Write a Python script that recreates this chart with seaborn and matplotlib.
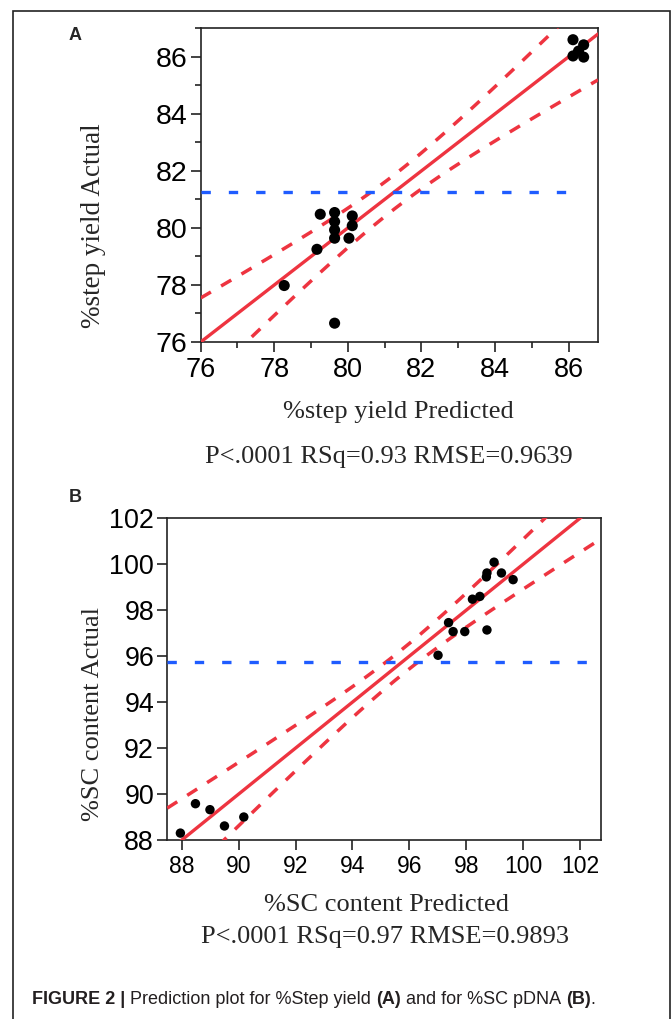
import matplotlib
matplotlib.use('Agg')
import matplotlib.pyplot as plt
import numpy as np
import pandas as pd
import seaborn as sns
from matplotlib.patches import Rectangle
from matplotlib.ticker import MultipleLocator

sns.set_theme(style='ticks')
plt.rcParams['font.family'] = ['Liberation Sans', 'DejaVu Sans']

W, H = 672, 1019
RED = '#ee3440'
BLUE = '#1f5cff'
SERIF = ['Liberation Serif', 'DejaVu Serif']

# panel A: %step yield
pred_a = [86.12, 86.41, 86.12, 86.41, 86.27, 79.25, 79.64, 79.64, 79.64, 79.64,
          80.12, 80.12, 80.03, 79.16, 78.27, 79.64]
act_a = [86.60, 86.42, 86.03, 85.99, 86.20, 80.48, 80.54, 80.22, 79.93, 79.64,
         80.42, 80.08, 79.64, 79.25, 77.98, 76.66]
mean_a = 81.27
mean_line_end_a = 86.3
band_a = (0.60, 0.27)  # half-width at the mean, growth per unit away from it
stats_a = 'P<.0001 RSq=0.93 RMSE=0.9639'

# panel B: %SC content
pred_b = [87.95, 88.48, 88.99, 89.50, 90.18, 97.01, 97.38, 97.54, 97.95, 98.22,
          98.48, 98.73, 98.71, 98.73, 98.98, 99.24, 99.65]
act_b = [88.30, 89.58, 89.32, 88.61, 89.00, 96.04, 97.46, 97.07, 97.07, 98.48,
         98.60, 97.14, 99.45, 99.62, 100.09, 99.62, 99.33]
mean_b = 95.75
band_b = (0.55, 0.22)
stats_b = 'P<.0001 RSq=0.97 RMSE=0.9893'


def px(x, y):
    return x / W, 1 - y / H


def draw_panel(ax, pred, act, mean, band, xlim, ylim, size, mean_end=None):
    df = pd.DataFrame({'pred': pred, 'act': act})
    xs = np.linspace(xlim[0], xlim[1], 300)
    half = np.sqrt(band[0] ** 2 + (band[1] * (xs - mean)) ** 2)
    ax.plot(xs, xs, color=RED, lw=2.4, zorder=3)
    for sign in (1, -1):
        ax.plot(xs, xs + sign * half, color=RED, lw=2.5, dashes=(3.4, 3.4), zorder=3)
    end = xlim[1] if mean_end is None else mean_end
    ax.plot([xlim[0], end], [mean, mean], color=BLUE, lw=2.4, dashes=(2.8, 5.4), zorder=3)
    sns.scatterplot(data=df, x='pred', y='act', ax=ax, color='black', s=size,
                    edgecolor='none', zorder=4, legend=False)
    ax.set_xlim(*xlim)
    ax.set_ylim(*ylim)
    ax.set_xlabel('')
    ax.set_ylabel('')
    for sp in ax.spines.values():
        sp.set_visible(True)
        sp.set_color('#222222')
        sp.set_linewidth(1.2)


fig = plt.figure(figsize=(W / 100, H / 100), dpi=100)
fig.add_artist(Rectangle((13 / W, -0.1), (670 - 13) / W, 1.1 - 10.7 / H,
                         transform=fig.transFigure, fill=False, lw=1.2, ec='#222222'))

tick_style = dict(direction='out', width=1.2, color='#222222', labelcolor='black')

# Panel A
ax_a = fig.add_axes([200.7 / W, 1 - 342 / H, (598 - 200.7) / W, (342 - 28.3) / H])
draw_panel(ax_a, pred_a, act_a, mean_a, band_a, (76, 86.8), (76, 87.0), 64, mean_line_end_a)
ax_a.xaxis.set_major_locator(MultipleLocator(2))
ax_a.yaxis.set_major_locator(MultipleLocator(2))
ax_a.xaxis.set_minor_locator(MultipleLocator(1))
ax_a.yaxis.set_minor_locator(MultipleLocator(1))
ax_a.tick_params(which='major', length=7, pad=2.5, **tick_style)
ax_a.tick_params(which='minor', length=4, **tick_style)
ax_a.tick_params(axis='y', labelsize=20.5)
ax_a.tick_params(axis='x', labelsize=19.5, pad=3.5)

# Panel B
ax_b = fig.add_axes([167.3 / W, 1 - 840 / H, (600.7 - 167.3) / W, (840 - 518.3) / H])
draw_panel(ax_b, pred_b, act_b, mean_b, band_b, (87.49, 102.73), (88, 102), 46)
ax_b.xaxis.set_major_locator(MultipleLocator(2))
ax_b.yaxis.set_major_locator(MultipleLocator(2))
ax_b.tick_params(which='major', length=7, pad=2.5, **tick_style)
ax_b.tick_params(axis='y', labelsize=19.4)
ax_b.tick_params(axis='x', labelsize=16.5, pad=3.5)

# panel letters and labels
fig.text(*px(75, 36), 'A', fontsize=13, fontweight='bold', ha='center', va='center')
fig.text(*px(75, 497), 'B', fontsize=13, fontweight='bold', ha='center', va='center')

fig.text(*px(94, 226), '%step yield Actual', family=SERIF, fontsize=19.5,
         rotation=90, ha='center', va='center')
fig.text(*px(398, 412), '%step yield Predicted', family=SERIF, fontsize=19,
         ha='center', va='center')
fig.text(*px(389, 457), stats_a, family=SERIF, fontsize=19, ha='center', va='center')

fig.text(*px(93, 714), '%SC content Actual', family=SERIF, fontsize=19,
         rotation=90, ha='center', va='center')
fig.text(*px(387, 905), '%SC content Predicted', family=SERIF, fontsize=19,
         ha='center', va='center')
fig.text(*px(385, 937), stats_b, family=SERIF, fontsize=19, ha='center', va='center')

# caption with bold pieces
caption = [('FIGURE 2 |', 'bold'), (' Prediction plot for %Step yield ', 'normal'),
           ('(A)', 'bold'), (' and for %SC pDNA ', 'normal'), ('(B)', 'bold'), ('.', 'normal')]
cap_size = 13
renderer = fig.canvas.get_renderer()
probe1 = fig.text(0, 0, 'x x', fontsize=cap_size)
probe2 = fig.text(0, 0, 'xx', fontsize=cap_size)
space_w = (probe1.get_window_extent(renderer).width - probe2.get_window_extent(renderer).width)
probe1.remove()
probe2.remove()
x = 32.0
for seg, weight in caption:
    lead = len(seg) - len(seg.lstrip(' '))
    trail = len(seg) - len(seg.rstrip(' '))
    x += lead * space_w
    t = fig.text(x / W, 1 - 1000 / H, seg.strip(' '), fontsize=cap_size, fontweight=weight,
                 color='#231f20', ha='left', va='center')
    x += t.get_window_extent(renderer).width + trail * space_w

fig.savefig('out.png', dpi=100)
